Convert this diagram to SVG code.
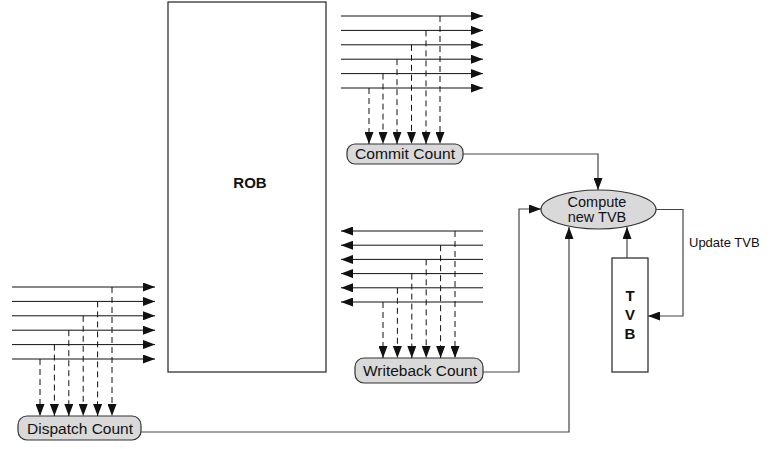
<svg xmlns="http://www.w3.org/2000/svg" width="772" height="449" viewBox="0 0 772 449">
<style>
  text { font-family: "Liberation Sans", Arial, sans-serif; fill: #111; }
  .lbl { font-size: 14px; text-anchor: middle; }
  .bold { font-weight: bold; font-size: 15px; text-anchor: middle; }
  .bus { stroke: #111; stroke-width: 1; fill: none; marker-end: url(#ah); }
  .dash { stroke: #111; stroke-width: 1; fill: none; stroke-dasharray: 6 4; marker-end: url(#ah); }
  .conn { stroke: #444; stroke-width: 1.2; fill: none; marker-end: url(#ah); }
  .box { fill: #d9d9d9; stroke: #333; stroke-width: 1.2; }
  .plain { fill: #fff; stroke: #222; stroke-width: 1.2; }
</style>
<defs>
  <marker id="ah" markerUnits="userSpaceOnUse" markerWidth="12" markerHeight="9" refX="12" refY="4.5" orient="auto">
    <path d="M0,0 L12,4.5 L0,9 z" fill="#111"/>
  </marker>
</defs>

<g id="rob">
  <rect class="plain" x="168" y="2" width="158" height="370"/>
  <text class="bold" x="250" y="188">ROB</text>
</g>

<g id="commit-count">
  <rect class="box" x="347" y="144" width="116" height="20" rx="8"/>
  <text class="lbl" x="405" y="159" textLength="100" lengthAdjust="spacingAndGlyphs">Commit Count</text>
</g>

<g id="writeback-count">
  <rect class="box" x="355" y="358" width="128" height="25" rx="9"/>
  <text class="lbl" x="420" y="375.5" textLength="114" lengthAdjust="spacingAndGlyphs">Writeback Count</text>
</g>

<g id="dispatch-count">
  <rect class="box" x="18" y="416" width="123" height="24" rx="9"/>
  <text class="lbl" x="80" y="433.5" textLength="106" lengthAdjust="spacingAndGlyphs">Dispatch Count</text>
</g>

<g id="compute-tvb">
  <ellipse class="box" cx="598.5" cy="209.5" rx="57.5" ry="19.5"/>
  <text class="lbl" x="597" y="207" style="font-size:14.5px">Compute</text>
  <text class="lbl" x="597" y="222" style="font-size:14.5px">new TVB</text>
</g>

<g id="tvb">
  <rect class="plain" x="612" y="258" width="36" height="114"/>
  <text class="bold" x="630" y="301">T</text>
  <text class="bold" x="630" y="320">V</text>
  <text class="bold" x="630" y="339">B</text>
</g>

<g id="update-label">
  <text x="689" y="247" style="font-size:13px">Update TVB</text>
</g>

<g id="connectors">
  <!-- commit bus -->
  <line class="bus" x1="341" y1="16" x2="483" y2="16"/>
  <line class="bus" x1="341" y1="30.4" x2="483" y2="30.4"/>
  <line class="bus" x1="341" y1="44.8" x2="483" y2="44.8"/>
  <line class="bus" x1="341" y1="59.2" x2="483" y2="59.2"/>
  <line class="bus" x1="341" y1="73.6" x2="483" y2="73.6"/>
  <line class="bus" x1="341" y1="88" x2="483" y2="88"/>
  <line class="dash" x1="440" y1="16" x2="440" y2="144"/>
  <line class="dash" x1="426" y1="30.4" x2="426" y2="144"/>
  <line class="dash" x1="411.5" y1="44.8" x2="411.5" y2="144"/>
  <line class="dash" x1="397" y1="59.2" x2="397" y2="144"/>
  <line class="dash" x1="383" y1="73.6" x2="383" y2="144"/>
  <line class="dash" x1="369" y1="88" x2="369" y2="144"/>

  <!-- writeback bus -->
  <line class="bus" x1="483" y1="231" x2="341" y2="231"/>
  <line class="bus" x1="483" y1="245.2" x2="341" y2="245.2"/>
  <line class="bus" x1="483" y1="259.4" x2="341" y2="259.4"/>
  <line class="bus" x1="483" y1="273.6" x2="341" y2="273.6"/>
  <line class="bus" x1="483" y1="287.8" x2="341" y2="287.8"/>
  <line class="bus" x1="483" y1="302" x2="341" y2="302"/>
  <line class="dash" x1="455" y1="231" x2="455" y2="358"/>
  <line class="dash" x1="440.6" y1="245.2" x2="440.6" y2="358"/>
  <line class="dash" x1="426.2" y1="259.4" x2="426.2" y2="358"/>
  <line class="dash" x1="411.8" y1="273.6" x2="411.8" y2="358"/>
  <line class="dash" x1="397.4" y1="287.8" x2="397.4" y2="358"/>
  <line class="dash" x1="383" y1="302" x2="383" y2="358"/>

  <!-- dispatch bus -->
  <line class="bus" x1="12" y1="287" x2="155" y2="287"/>
  <line class="bus" x1="12" y1="301.4" x2="155" y2="301.4"/>
  <line class="bus" x1="12" y1="315.8" x2="155" y2="315.8"/>
  <line class="bus" x1="12" y1="330.2" x2="155" y2="330.2"/>
  <line class="bus" x1="12" y1="344.6" x2="155" y2="344.6"/>
  <line class="bus" x1="12" y1="359" x2="155" y2="359"/>
  <line class="dash" x1="112" y1="287" x2="112" y2="416"/>
  <line class="dash" x1="97.6" y1="301.4" x2="97.6" y2="416"/>
  <line class="dash" x1="83.2" y1="315.8" x2="83.2" y2="416"/>
  <line class="dash" x1="68.8" y1="330.2" x2="68.8" y2="416"/>
  <line class="dash" x1="54.4" y1="344.6" x2="54.4" y2="416"/>
  <line class="dash" x1="40" y1="359" x2="40" y2="416"/>

  <!-- to compute -->
  <path class="conn" d="M463,154 H598 V190"/>
  <path class="conn" d="M483,372 H519 V209 H541"/>
  <path class="conn" d="M141,432 H569 V227"/>
  <path class="conn" d="M627,258 V227"/>
  <path class="conn" d="M656,209.5 H683 V316 H648"/>
</g>
</svg>
